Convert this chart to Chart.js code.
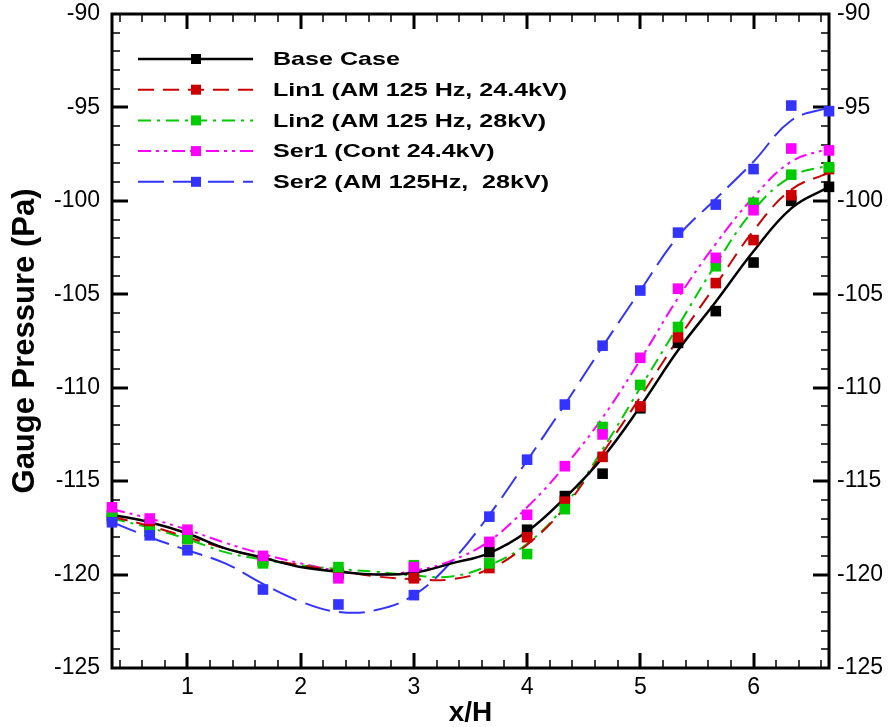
<!DOCTYPE html>
<html>
<head>
<meta charset="utf-8">
<script src="https://cdn.jsdelivr.net/npm/chart.js@4"></script>
<style>
html, body { margin: 0; padding: 0; background: #fff; }
#wrap { width: 893px; height: 727px; }
</style>
</head>
<body>
<div id="wrap"><canvas id="c" width="893" height="727"></canvas></div>
<script>
// measured points (squares)
const xMarkers = [1/3, 2/3, 1, 5/3, 7/3, 3, 11/3, 4, 13/3, 14/3, 5, 16/3, 17/3, 6, 19/3, 20/3];
const baseMarkers = [-116.8, -117.3, -118.0, -119.2, -119.9, -120.1, -118.8, -117.6, -115.8, -114.6, -111.1, -107.6, -105.9, -103.3, -100.0, -99.25];
const lin1Markers = [-117.0, -117.5, -118.1, -119.3, -120.0, -120.2, -119.65, -118.0, -116.1, -113.7, -111.0, -107.3, -104.4, -102.1, -99.7, -98.3];
const lin2Markers = [-116.9, -117.7, -118.1, -119.4, -119.6, -119.5, -119.4, -118.9, -116.5, -112.1, -109.85, -106.75, -103.5, -100.1, -98.6, -98.2];
const ser1Markers = [-116.4, -117.0, -117.6, -119.0, -120.2, -119.6, -118.25, -116.8, -114.2, -112.5, -108.4, -104.7, -103.05, -100.5, -97.2, -97.3];
const ser2Markers = [-117.2, -117.9, -118.7, -120.8, -121.6, -121.1, -116.9, -113.85, -110.9, -107.75, -104.8, -101.7, -100.2, -98.3, -94.9, -95.2];

// fitted curves
const xCurve = [1/3, 2/3, 1, 4/3, 5/3, 2, 7/3, 8/3, 3, 10/3, 11/3, 4, 13/3, 14/3, 5, 16/3, 17/3, 6, 19/3, 20/3];
const baseCurve = [-116.8, -117.2, -117.8, -118.6, -119.1, -119.6, -119.85, -120.0, -119.9, -119.4, -118.85, -117.7, -115.9, -113.75, -111.0, -108.0, -105.4, -102.7, -100.4, -99.25];
const lin1Curve = [-116.9, -117.4, -118.0, -118.6, -119.1, -119.5, -119.8, -120.1, -120.25, -120.25, -119.7, -118.4, -116.4, -113.5, -110.5, -107.4, -104.5, -101.6, -99.4, -98.5];
const lin2Curve = [-117.0, -117.5, -118.1, -118.8, -119.2, -119.5, -119.7, -119.85, -120.05, -120.1, -119.5, -118.35, -116.3, -113.3, -110.0, -106.7, -103.4, -100.5, -98.7, -98.1];
const ser1Curve = [-116.5, -117.0, -117.6, -118.3, -118.9, -119.4, -119.8, -120.0, -119.8, -119.25, -118.2, -116.4, -114.2, -111.6, -108.5, -105.2, -102.3, -99.8, -97.9, -97.2];
const ser2Curve = [-117.2, -118.0, -118.7, -119.4, -120.5, -121.45, -122.0, -121.9, -121.1, -119.3, -116.8, -113.9, -110.9, -107.8, -104.8, -101.9, -99.9, -97.9, -95.7, -95.0];

const labels = ['Base Case', 'Lin1 (AM 125 Hz, 24.4kV)', 'Lin2 (AM 125 Hz, 28kV)', 'Ser1 (Cont 24.4kV)', 'Ser2 (AM 125Hz,  28kV)'];
const xTicks = [1, 2, 3, 4, 5, 6];
const yTicks = [-125, -120, -115, -110, -105, -100, -95, -90];

const colors = ['#000000', '#cc0000', '#00cc00', '#ff00ff', '#3333ff'];
const dashes = [[], [16, 9], [13, 6, 3, 6], [13, 5, 3, 5, 3, 5], [26, 9]];
const widths = [2.5, 2, 2, 2, 2];
const curves = [baseCurve, lin1Curve, lin2Curve, ser1Curve, ser2Curve];
const markers = [baseMarkers, lin1Markers, lin2Markers, ser1Markers, ser2Markers];

const FONT = '"Liberation Sans", Arial, sans-serif';

const datasets = [];
curves.forEach((ys, i) => {
    datasets.push({
        type: 'line',
        label: labels[i],
        data: xCurve.map((x, k) => ({x, y: ys[k]})),
        borderColor: colors[i],
        borderWidth: widths[i],
        borderDash: dashes[i],
        pointRadius: 0,
        tension: 0.4,
        fill: false,
        order: 10 + i
    });
});
markers.forEach((ys, i) => {
    datasets.push({
        type: 'scatter',
        label: labels[i] + ' pts',
        data: xMarkers.map((x, k) => ({x, y: ys[k]})),
        pointStyle: 'rect',
        pointRadius: 7.5,
        backgroundColor: colors[i],
        borderWidth: 0,
        clip: false,
        order: 5 - i
    });
});

const frameTicks = {
    id: 'frameTicks',
    beforeDatasetsDraw(chart) {
        const {ctx, chartArea: a, scales: {x, y}} = chart;
        ctx.save();
        ctx.strokeStyle = '#000';
        for (let k = 2; k <= 33; k++) {
            const v = k * 0.2;
            const px = Math.round(x.getPixelForValue(v));
            const major = k % 5 === 0;
            const len = major ? 15 : 8;
            ctx.lineWidth = major ? 3 : 1.5;
            ctx.beginPath();
            ctx.moveTo(px, a.bottom); ctx.lineTo(px, a.bottom - len);
            ctx.moveTo(px, a.top); ctx.lineTo(px, a.top + len);
            ctx.stroke();
        }
        for (let v = -124; v <= -91; v++) {
            const py = Math.round(y.getPixelForValue(v));
            const major = v % 5 === 0;
            const len = major ? 16 : 8;
            ctx.lineWidth = major ? 3 : 1.5;
            ctx.beginPath();
            ctx.moveTo(a.left, py); ctx.lineTo(a.left + len, py);
            ctx.moveTo(a.right, py); ctx.lineTo(a.right - len, py);
            ctx.stroke();
        }
        ctx.lineWidth = 3;
        ctx.strokeRect(a.left, a.top, a.right - a.left, a.bottom - a.top);
        ctx.restore();
    }
};

const legendBox = {
    id: 'legendBox',
    afterDraw(chart) {
        const {ctx, chartArea: a} = chart;
        ctx.save();
        chart.data.datasets.filter(d => d.type === 'line').forEach((d, i) => {
            const yy = a.top + 45 + i * 30.7;
            const x0 = a.left + 26, x1 = a.left + 141, xm = a.left + 84;
            ctx.strokeStyle = d.borderColor;
            ctx.lineWidth = d.borderWidth;
            ctx.setLineDash(d.borderDash);
            ctx.beginPath();
            ctx.moveTo(x0, yy); ctx.lineTo(x1, yy);
            ctx.stroke();
            ctx.setLineDash([]);
            ctx.fillStyle = d.borderColor;
            ctx.fillRect(xm - 5, yy - 5, 10, 10);
            ctx.fillStyle = '#000';
            ctx.font = 'bold 19px ' + FONT;
            ctx.textBaseline = 'middle';
            ctx.save();
            ctx.translate(a.left + 161, yy + 1);
            ctx.scale(1.32, 1);
            ctx.fillText(d.label, 0, 0);
            ctx.restore();
        });
        ctx.restore();
    }
};

const tickFont = {family: FONT, size: 23};
const noPad = s => { s.paddingTop = 0; s.paddingBottom = 0; s.paddingLeft = 0; s.paddingRight = 0; };

new Chart(document.getElementById('c'), {
    data: {datasets},
    options: {
        responsive: false,
        animation: false,
        events: [],
        layout: {padding: {top: 14, left: 0, right: 0, bottom: 0}},
        plugins: {legend: {display: false}, tooltip: {enabled: false}},
        scales: {
            x: {
                type: 'linear',
                min: 1/3,
                max: 20/3,
                afterBuildTicks: s => { s.ticks = xTicks.map(v => ({value: v})); },
                afterFit: s => { s.height = 59; noPad(s); },
                grid: {display: false, drawTicks: false},
                border: {display: false},
                ticks: {font: tickFont, color: '#000', padding: 6, maxRotation: 0},
                title: {display: true, text: 'x/H', color: '#000',
                        font: {family: FONT, size: 28, weight: 'bold', lineHeight: 1}, padding: 0}
            },
            y: {
                type: 'linear',
                position: 'left',
                min: -125,
                max: -90,
                afterBuildTicks: s => { s.ticks = yTicks.map(v => ({value: v})); },
                afterFit: s => { s.width = 112; noPad(s); },
                grid: {display: false, drawTicks: false},
                border: {display: false},
                ticks: {font: tickFont, color: '#000', padding: 12},
                title: {display: true, text: 'Gauge Pressure (Pa)', color: '#000',
                        font: {family: FONT, size: 31, weight: 'bold', lineHeight: 1.2}, padding: {top: 7}}
            },
            y2: {
                type: 'linear',
                position: 'right',
                min: -125,
                max: -90,
                afterBuildTicks: s => { s.ticks = yTicks.map(v => ({value: v})); },
                afterFit: s => { s.width = 64; noPad(s); },
                grid: {display: false, drawTicks: false},
                border: {display: false},
                ticks: {font: tickFont, color: '#000', padding: 8}
            }
        }
    },
    plugins: [frameTicks, legendBox]
});
</script>
</body>
</html>
